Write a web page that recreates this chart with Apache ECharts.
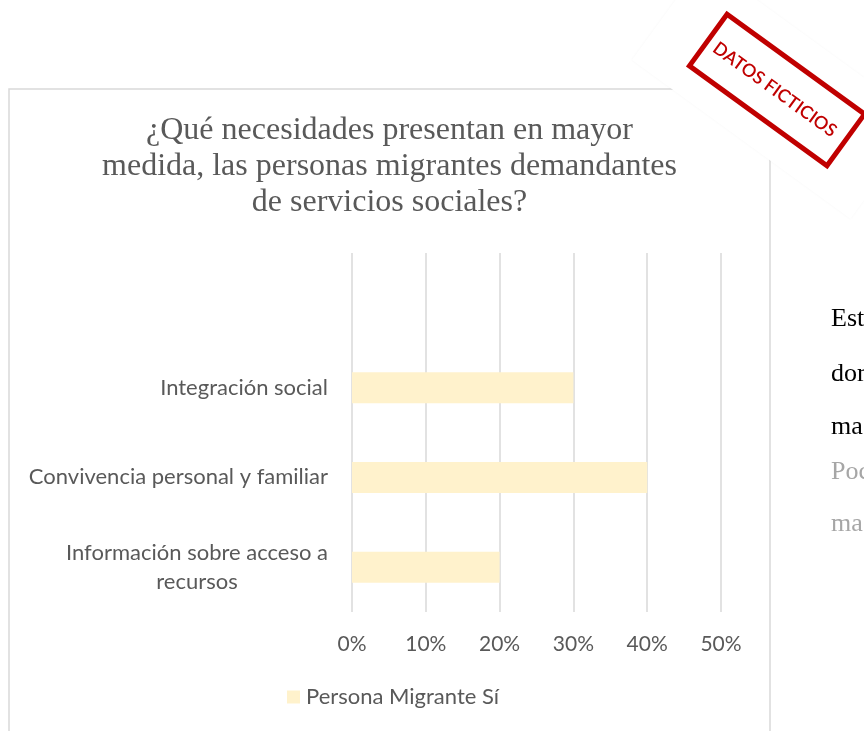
<!DOCTYPE html>
<html>
<head>
<meta charset="utf-8">
<script src="https://cdn.jsdelivr.net/npm/echarts@6.0.0/dist/echarts.min.js"></script>
<style>
  html, body { margin: 0; padding: 0; background: #ffffff; }
  #chart { width: 864px; height: 731px; }
</style>
</head>
<body>
<div id="chart"></div>
<script>
// datos (de abajo hacia arriba, la última categoría va vacía como en el original)
var categories = ['Información sobre acceso a\nrecursos', 'Convivencia personal y familiar', 'Integración social', ''];
var valores = [20, 40, 30, null];
var serieNombre = 'Persona Migrante Sí';
var tituloTexto = '¿Qué necesidades presentan en mayor\nmedida, las personas migrantes demandantes\nde servicios sociales?';
var textoFondo = ['Est', 'dor', 'ma', 'Poc', 'ma'];
var colorFondo = ['#000000', '#000000', '#000000', '#a6a6a6', '#a6a6a6'];

var gris = '#595959';
var sans = 'Lato, "Open Sans", sans-serif';
var serif = '"Liberation Serif", "DejaVu Serif", serif';

var chartDom = document.getElementById('chart');
var myChart = echarts.init(chartDom);

var fondo = textoFondo.map(function (t, i) {
    var ys = [319, 374, 427, 472, 524];
    return {
        type: 'text',
        x: 831,
        y: ys[i],
        style: { text: t, font: '26px ' + serif, fill: colorFondo[i], verticalAlign: 'middle' }
    };
});

var option = {
    animation: false,
    backgroundColor: '#ffffff',
    grid: { left: 352, right: 143, top: 253, bottom: 119, containLabel: false },
    xAxis: {
        type: 'value',
        min: 0,
        max: 50,
        interval: 10,
        axisLine: { show: false },
        axisTick: { show: false },
        splitLine: { show: true, lineStyle: { color: '#d9d9d9', width: 1.5 } },
        axisLabel: { formatter: '{value}%', color: gris, fontFamily: sans, fontSize: 21, margin: 22 }
    },
    yAxis: {
        type: 'category',
        data: categories,
        axisLine: { show: false },
        axisTick: { show: false },
        splitLine: { show: false },
        axisLabel: {
            color: gris,
            fontFamily: sans,
            fontSize: 22,
            margin: 24,
            lineHeight: 29,
            formatter: function (v) {
                if (v.indexOf('\n') < 0) return v;
                return v.split('\n').map(function (l) { return '{c|' + l + '}'; }).join('\n');
            },
            rich: { c: { align: 'center', color: gris, fontFamily: sans, fontSize: 22, lineHeight: 29 } }
        }
    },
    legend: {
        data: [serieNombre],
        left: 287,
        top: 686,
        padding: 0,
        itemWidth: 13,
        itemHeight: 13,
        itemGap: 6,
        icon: 'rect',
        textStyle: { color: gris, fontFamily: sans, fontSize: 22, padding: [0, 0, 0, 1] }
    },
    series: [{
        name: serieNombre,
        type: 'bar',
        data: valores,
        barWidth: 31,
        itemStyle: { color: '#fff2cc' }
    }],
    graphic: [
        // borde del gráfico
        {
            type: 'rect', z: -1,
            shape: { x: 9, y: 89, width: 761, height: 700 },
            style: { fill: 'none', stroke: '#d9d9d9', lineWidth: 1.5 }
        },
        {
            type: 'text', x: 389.5, y: 113,
            style: { text: tituloTexto, font: '32px ' + serif, fill: gris, align: 'center', verticalAlign: 'top', lineHeight: 36 }
        }
    ].concat(fondo).concat([
        // sello "DATOS FICTICIOS"
        {
            type: 'group', x: 777, y: 90, rotation: -36 * Math.PI / 180, z: 100,
            children: [
                {
                    type: 'rect', shape: { x: -135, y: -61, width: 270, height: 122 },
                    style: { fill: '#ffffff', shadowBlur: 3, shadowColor: 'rgba(0,0,0,0.035)' }
                },
                {
                    type: 'rect', shape: { x: -85, y: -32, width: 170, height: 64 },
                    style: { fill: 'none', stroke: '#c00000', lineWidth: 5 }
                },
                {
                    type: 'text', x: -2, y: 1,
                    style: { text: 'DATOS FICTICIOS', font: '600 18px ' + sans, fill: '#c00000', align: 'center', verticalAlign: 'middle' }
                }
            ]
        }
    ])
};

myChart.setOption(option);
</script>
</body>
</html>
